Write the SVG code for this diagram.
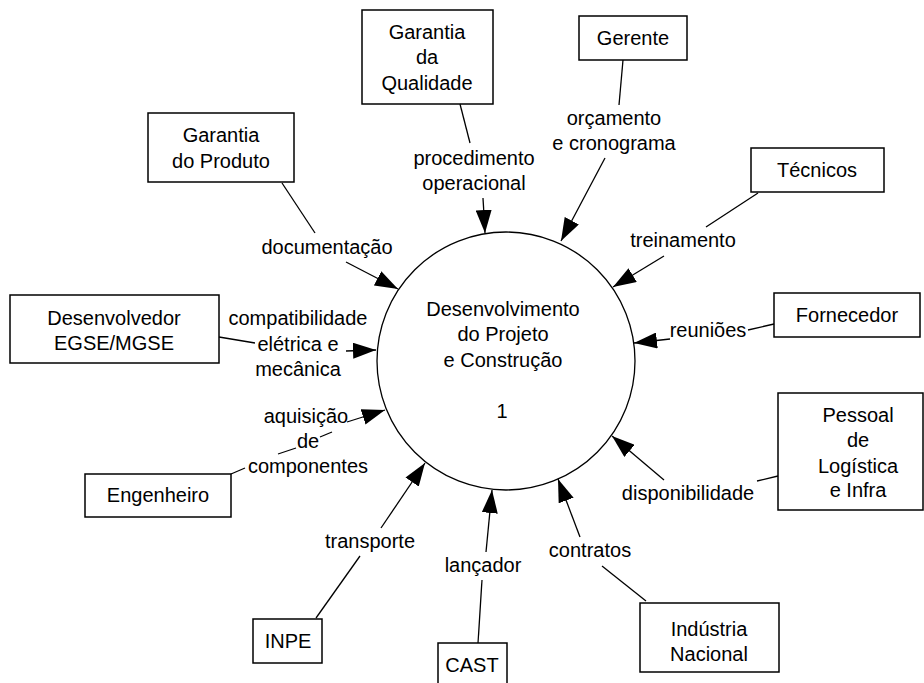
<svg xmlns="http://www.w3.org/2000/svg" width="924" height="683" viewBox="0 0 924 683">
<style>
.box{fill:#fff;stroke:#000;stroke-width:1.5}
.t{font-family:"Liberation Sans",Arial,sans-serif;font-size:20px;fill:#000;text-anchor:middle}
.c line{stroke:#000;stroke-width:1.3}
.c line.a{marker-end:url(#arr)}
</style>
<defs>
<marker id="arr" markerUnits="userSpaceOnUse" markerWidth="24" markerHeight="16" refX="23" refY="8" orient="auto">
<path d="M0,0 L23,8 L0,16 z" fill="#000"/>
</marker>
</defs>
<rect width="924" height="683" fill="#fff"/>
<g id="process">
<circle cx="506" cy="361" r="129" fill="#fff" stroke="#000" stroke-width="1.3"/>
<text class="t" x="503" y="316">Desenvolvimento</text>
<text class="t" x="503" y="341">do Projeto</text>
<text class="t" x="503" y="367">e Construção</text>
<text class="t" x="502" y="418">1</text>
</g>
<g id="garantia-produto">
<rect class="box" x="148" y="113" width="146" height="69"/>
<text class="t" x="221" y="142">Garantia</text>
<text class="t" x="221" y="168">do Produto</text>
</g>
<g id="garantia-qualidade">
<rect class="box" x="362" y="10" width="131" height="94"/>
<text class="t" x="427" y="39">Garantia</text>
<text class="t" x="427" y="64">da</text>
<text class="t" x="427" y="90">Qualidade</text>
</g>
<g id="gerente">
<rect class="box" x="579" y="16" width="108" height="44"/>
<text class="t" x="633" y="45">Gerente</text>
</g>
<g id="tecnicos">
<rect class="box" x="751" y="148" width="133" height="44"/>
<text class="t" x="817" y="177">Técnicos</text>
</g>
<g id="fornecedor">
<rect class="box" x="774" y="293" width="146" height="44"/>
<text class="t" x="847" y="322">Fornecedor</text>
</g>
<g id="pessoal">
<rect class="box" x="778" y="393" width="145" height="117"/>
<text class="t" x="858" y="422">Pessoal</text>
<text class="t" x="858" y="447">de</text>
<text class="t" x="858" y="473">Logística</text>
<text class="t" x="858" y="497">e Infra</text>
</g>
<g id="desenvolvedor">
<rect class="box" x="10" y="295" width="209" height="68"/>
<text class="t" x="114" y="325">Desenvolvedor</text>
<text class="t" x="114" y="350">EGSE/MGSE</text>
</g>
<g id="engenheiro">
<rect class="box" x="85" y="474" width="146" height="43"/>
<text class="t" x="158" y="502">Engenheiro</text>
</g>
<g id="inpe">
<rect class="box" x="253" y="619" width="69" height="44"/>
<text class="t" x="288" y="648">INPE</text>
</g>
<g id="cast">
<rect class="box" x="438" y="643" width="69" height="50"/>
<text class="t" x="472" y="672">CAST</text>
</g>
<g id="industria">
<rect class="box" x="640" y="603" width="139" height="69"/>
<text class="t" x="709" y="636">Indústria</text>
<text class="t" x="709" y="661">Nacional</text>
</g>
<g id="connectors" class="c">
<line x1="282" y1="183" x2="315" y2="233"/>
<line class="a" x1="346" y1="262" x2="398" y2="289"/>
<line x1="460" y1="104" x2="470" y2="143"/>
<line class="a" x1="483" y1="198" x2="485" y2="233"/>
<line x1="623" y1="60" x2="619" y2="105"/>
<line class="a" x1="605" y1="158" x2="561" y2="241"/>
<line x1="758" y1="193" x2="706" y2="227"/>
<line class="a" x1="664" y1="256" x2="613" y2="287"/>
<line x1="774" y1="324" x2="748" y2="330"/>
<line class="a" x1="670" y1="339" x2="634" y2="343"/>
<line x1="778" y1="476" x2="757" y2="481"/>
<line class="a" x1="664" y1="480" x2="612" y2="436"/>
<line x1="646" y1="601" x2="602" y2="566"/>
<line class="a" x1="580" y1="537" x2="558" y2="479"/>
<line x1="478" y1="643" x2="482" y2="580"/>
<line class="a" x1="486" y1="552" x2="492" y2="490"/>
<line x1="316" y1="618" x2="360" y2="556"/>
<line class="a" x1="381" y1="528" x2="425" y2="463"/>
<line x1="231" y1="474" x2="245" y2="468"/>
<line x1="278" y1="454" x2="296" y2="448"/>
<line x1="320" y1="437" x2="332" y2="432"/>
<line class="a" x1="347" y1="422" x2="385" y2="410"/>
<line x1="219" y1="337" x2="255" y2="343"/>
<line class="a" x1="346" y1="351" x2="376" y2="350"/>
</g>
<g id="labels">
<text class="t" x="327" y="254">documentação</text>
<text class="t" x="474" y="165">procedimento</text>
<text class="t" x="474" y="190">operacional</text>
<text class="t" x="614" y="125">orçamento</text>
<text class="t" x="614" y="150">e cronograma</text>
<text class="t" x="683" y="247">treinamento</text>
<text class="t" x="708" y="337">reuniões</text>
<text class="t" x="688" y="500">disponibilidade</text>
<text class="t" x="590" y="557">contratos</text>
<text class="t" x="483" y="572">lançador</text>
<text class="t" x="370" y="548">transporte</text>
<text class="t" x="306" y="423">aquisição</text>
<text class="t" x="308" y="448">de</text>
<text class="t" x="308" y="473">componentes</text>
<text class="t" x="298" y="325">compatibilidade</text>
<text class="t" x="298" y="351">elétrica e</text>
<text class="t" x="298" y="376">mecânica</text>
</g>
</svg>
